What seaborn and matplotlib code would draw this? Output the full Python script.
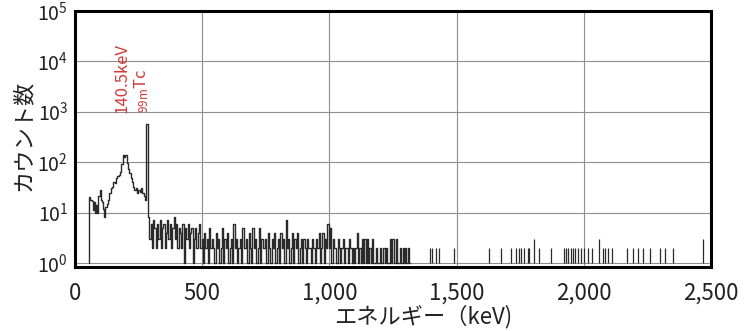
import pandas as pd
import matplotlib
matplotlib.use('Agg')
import matplotlib.pyplot as plt
import matplotlib.ticker as mticker
import seaborn as sns

# peak region (keV, counts)
hump_kev = [55, 58, 62, 68, 71, 75, 81, 84, 88, 94, 99, 104, 109, 114, 117, 122, 127, 133,
            138, 143, 148, 153, 158, 164, 169, 174, 179, 184, 190, 195, 200, 205, 210, 216,
            221, 226, 231, 236, 242, 247, 252, 257, 262, 268, 273, 278, 283]
hump_counts = [1, 20, 18, 17, 11, 16, 10, 14, 10, 21, 28, 18, 16, 12, 8, 13, 15, 18,
               24, 30, 32, 41, 38, 48, 52, 56, 65, 90, 139, 128, 139, 95, 72, 60,
               48, 41, 32, 28, 30, 24, 28, 26, 30, 24, 21, 18, 570]

# noisy continuum, 5 keV channels from 290 keV
noise_start = 290
noise_counts = [8, 3, 6, 2, 7, 5, 2, 6, 3, 7, 2, 5, 6, 2, 4, 7, 3, 6, 2, 5,
                8, 3, 6, 2, 5, 4, 2, 6, 1, 5, 3, 6, 2, 4, 5, 1, 3, 5, 2, 4,
                6, 2,
                3, 1, 4, 2, 3, 1, 5, 2, 3, 2,
                1, 4, 2, 3, 1, 2, 5, 1, 3, 2,
                4, 1, 2, 3, 1, 6, 2, 3, 1, 2,
                3, 1, 5, 2, 2, 3, 1, 4, 2, 1,
                5, 2, 3, 1, 2, 5, 1, 3, 2, 2,
                3, 1, 4, 2, 1, 3, 2, 4, 1, 2,
                3, 1, 4, 2, 3, 1, 7, 2, 3, 1,
                2, 4, 1, 3, 2, 4, 1, 2, 3, 1,
                3, 2, 1, 3, 2, 2, 1, 3, 2, 1,
                3, 2, 4, 1, 2, 4, 1, 3, 2, 6,
                2, 5, 1, 3, 2, 2, 1, 3, 2, 1,
                2, 3, 1, 2, 2, 1, 3, 2, 1, 2,
                1, 2, 4, 1, 2, 1, 3, 1, 3, 1,
                3, 1, 2, 1, 3, 1, 1, 2, 1, 1,
                2, 1, 1, 2, 1, 2, 1, 1, 3, 1,
                3, 1, 1, 3, 1, 1, 2, 1, 2, 1,
                2, 1, 2, 1]

# sparse counts in the high-energy tail
tail_kev = [1395, 1405, 1420, 1430, 1489, 1629, 1674, 1715, 1734, 1745, 1754, 1766, 1781,
            1786, 1806, 1824, 1871, 1921, 1929, 1937, 1949, 1958, 1967, 1976, 1988, 2000,
            2015, 2034, 2058, 2075, 2085, 2095, 2112, 2171, 2192, 2214, 2233, 2260, 2300,
            2320, 2350, 2470]
tail_counts = [2, 2, 2, 2, 2, 2, 2, 2, 2, 2, 2, 2, 2,
               2, 3, 2, 2, 2, 2, 2, 2, 2, 2, 2, 2, 2,
               2, 2, 3, 2, 2, 2, 2, 2, 2, 2, 2, 2, 2,
               2, 2, 3]

x_ticks = [0, 500, 1000, 1500, 2000, 2500]

noise_kev = [noise_start + 5 * i for i in range(len(noise_counts))]
spec = pd.DataFrame({'keV': hump_kev + noise_kev, 'counts': hump_counts + noise_counts})

sns.set_style('white')
plt.rcParams['font.family'] = ['Noto Sans CJK JP', 'DejaVu Sans']
plt.rcParams['mathtext.default'] = 'regular'

fig = plt.figure(figsize=(7.47, 3.31), dpi=100)
ax = fig.add_axes([0.1004, 0.1943, 0.8514, 0.7725])

sns.lineplot(data=spec, x='keV', y='counts', drawstyle='steps-mid', color='#2a2a2a',
             lw=1.0, ax=ax, zorder=3)
ax.vlines(tail_kev, 1, tail_counts, color='#2a2a2a', lw=0.9, zorder=3)

ax.set_yscale('log')
ax.set_xlim(0, 2500)
ax.set_ylim(10 ** -0.075, 1e5)
ax.set_xticks(x_ticks)
ax.xaxis.set_major_formatter(mticker.StrMethodFormatter('{x:,.0f}'))
ax.yaxis.set_major_locator(mticker.LogLocator(base=10, numticks=10))

ax.grid(True, which='major', color='#8f8f8f', lw=0.8, zorder=0)
ax.tick_params(axis='x', length=0, pad=11, labelsize=16, labelcolor='#222222')
ax.tick_params(axis='y', which='major', length=0, pad=5, labelsize=14, labelcolor='#222222')
ax.tick_params(axis='y', which='minor', direction='in', length=3, width=0.6, color='#999999')
for sp in ax.spines.values():
    sp.set_linewidth(2.2)
    sp.set_color('black')

ax.set_xlabel('エネルギー（keV)', fontsize=16, color='#222222')
ax.xaxis.set_label_coords(0.548, -0.15)
ax.set_ylabel('カウント数', fontsize=16, color='#222222')
ax.yaxis.set_label_coords(-0.063, 0.515)

ax.text(186, 10 ** 2.98, '140.5keV', rotation=90, ha='center', va='bottom',
        color='#d23a3a', fontsize=12)
ax.text(262, 10 ** 2.98, r'$_{99m}$Tc', rotation=90, ha='center', va='bottom',
        color='#d23a3a', fontsize=12)

fig.savefig('out.png', dpi=100)
